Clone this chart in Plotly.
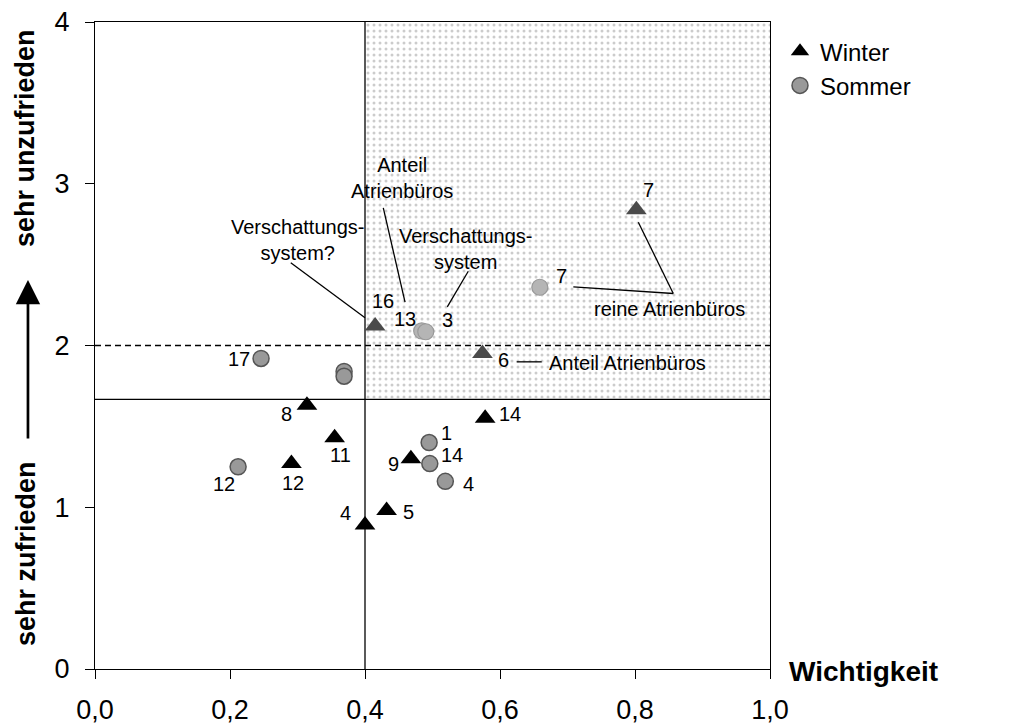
import plotly.graph_objects as go

# ---------------- data ----------------
winter_labels = ["8", "11", "12", "4", "5", "9", "14", "6", "16", "7"]
winter_importance = [0.314, 0.355, 0.291, 0.400, 0.432, 0.468, 0.578, 0.574, 0.415, 0.802]
winter_satisfaction = [1.63, 1.43, 1.27, 0.89, 0.98, 1.30, 1.55, 1.95, 2.12, 2.84]

summer_labels = ["17", "", "", "12", "1", "14", "4", "13", "3", "7"]
summer_importance = [0.246, 0.369, 0.369, 0.212, 0.495, 0.496, 0.519, 0.484, 0.490, 0.659]
summer_satisfaction = [1.92, 1.84, 1.81, 1.25, 1.40, 1.27, 1.16, 2.09, 2.085, 2.36]

IMPORTANCE_THRESHOLD = 0.4
MEAN_SATISFACTION = 1.667
SCALE_MIDPOINT = 2.0

x_ticks = [0.0, 0.2, 0.4, 0.6, 0.8, 1.0]
y_ticks = [0, 1, 2, 3, 4]

# ---------------- styling ----------------
FONT = "Liberation Sans, Arial, sans-serif"
LBL = 20

# label offsets in pixels (dx right, dy down) keyed by season/label
winter_offsets = {"8": (-20, 9), "11": (6, 17), "12": (2, 19), "4": (-20, -12), "5": (22, 2),
                  "9": (-17, 5), "14": (25, -4), "6": (21, 6), "16": (8, -25), "7": (12, -20)}
summer_offsets = {"17": (-22, 1), "12": (-14, 17), "1": (17, -10), "14": (22, -9), "4": (23, 3),
                  "13": (-17, -12), "3": (22, -12), "7": (22, -11)}


def in_zone(x, y):
    return x >= IMPORTANCE_THRESHOLD and y >= MEAN_SATISFACTION


fig = go.Figure()

# shaded quadrant (dotted pattern)
fig.add_trace(go.Scatter(
    x=[IMPORTANCE_THRESHOLD, 1, 1, IMPORTANCE_THRESHOLD, IMPORTANCE_THRESHOLD],
    y=[MEAN_SATISFACTION, MEAN_SATISFACTION, 4, 4, MEAN_SATISFACTION],
    mode="lines", fill="toself", fillcolor="rgba(0,0,0,0)",
    fillpattern=dict(shape=".", size=6, solidity=0.2, fgcolor="#999999"),
    line=dict(width=0), hoverinfo="skip", showlegend=False))


def split(xs, ys, zone):
    xi = [x for x, y in zip(xs, ys) if in_zone(x, y) == zone]
    yi = [y for x, y in zip(xs, ys) if in_zone(x, y) == zone]
    return xi, yi


# Winter
wx, wy = split(winter_importance, winter_satisfaction, False)
fig.add_trace(go.Scatter(x=wx, y=wy, mode="markers", name="Winter",
                         marker=dict(symbol="triangle-up", size=18, color="black",
                                     line=dict(width=0))))
wxs, wys = split(winter_importance, winter_satisfaction, True)
fig.add_trace(go.Scatter(x=wxs, y=wys, mode="markers", showlegend=False,
                         marker=dict(symbol="triangle-up", size=18, color="#4a4a4a",
                                     line=dict(width=0))))
# Sommer
sx, sy = split(summer_importance, summer_satisfaction, False)
fig.add_trace(go.Scatter(x=sx, y=sy, mode="markers", name="Sommer",
                         marker=dict(symbol="circle", size=16, color="#999999",
                                     line=dict(width=1.5, color="#555555"))))
sxs, sys_ = split(summer_importance, summer_satisfaction, True)
fig.add_trace(go.Scatter(x=sxs, y=sys_, mode="markers", showlegend=False,
                         marker=dict(symbol="circle", size=16, color="#b5b5b5",
                                     line=dict(width=1.2, color="#999999"))))

annotations = []
for labels, xs, ys, offs in [(winter_labels, winter_importance, winter_satisfaction, winter_offsets),
                             (summer_labels, summer_importance, summer_satisfaction, summer_offsets)]:
    for lab, x, y in zip(labels, xs, ys):
        if not lab:
            continue
        dx, dy = offs[lab]
        annotations.append(dict(x=x, y=y, xref="x", yref="y", text=lab, showarrow=False,
                                xshift=dx, yshift=-dy, font=dict(size=LBL, color="black")))

# callout texts
callouts = [
    ("Verschattungs-<br>system?", 0.300, 2.650),
    ("Anteil<br>Atrienbüros", 0.4548, 3.037),
    ("Verschattungs-<br>system", 0.5493, 2.599),
    ("reine Atrienbüros", 0.8508, 2.2226),
    ("Anteil Atrienbüros", 0.7889, 1.893),
]
for t, x, y in callouts:
    annotations.append(dict(x=x, y=y, xref="x", yref="y", text=t, showarrow=False,
                            font=dict(size=LBL, color="black"), align="center"))

# right-side explanations
right_texts = [
    ("Skalenmittelwert", 1.996),
    ("Mittelwert der Zufriedenheit", 1.666),
    ("mit dem Tageslicht", 1.522),
    ("für Sommer und Winter", 1.377),
]
for t, y in right_texts:
    annotations.append(dict(x=1.0173, y=y, xref="x", yref="y", text=t, showarrow=False,
                            xanchor="left", font=dict(size=LBL, color="black")))

# axis titles
annotations.append(dict(x=1.0252, y=-0.004, xref="paper", yref="paper", text="<b>Wichtigkeit</b>",
                        showarrow=False, xanchor="left", yanchor="middle",
                        font=dict(size=28, color="black")))
annotations.append(dict(x=-0.1030, y=0.8215, xref="paper", yref="paper", text="<b>sehr unzufrieden</b>",
                        showarrow=False, textangle=-90, xanchor="center", yanchor="middle",
                        font=dict(size=27, color="black")))
annotations.append(dict(x=-0.1030, y=0.1785, xref="paper", yref="paper", text="<b>sehr zufrieden</b>",
                        showarrow=False, textangle=-90, xanchor="center", yanchor="middle",
                        font=dict(size=27, color="black")))
annotations.append(dict(x=-0.0993, y=0.6012, xref="paper", yref="paper", text="",
                        xanchor="center", yanchor="middle",
                        showarrow=True, ax=0, ay=160, arrowhead=2, arrowsize=1.8, arrowwidth=2.7,
                        arrowcolor="black"))

# lines
shapes = [
    dict(type="line", x0=IMPORTANCE_THRESHOLD, x1=IMPORTANCE_THRESHOLD, y0=0, y1=4,
         line=dict(color="black", width=1.3), layer="below"),
    dict(type="line", x0=0, x1=1, y0=MEAN_SATISFACTION, y1=MEAN_SATISFACTION,
         line=dict(color="black", width=1.3), layer="below"),
    dict(type="line", x0=0, x1=1, y0=SCALE_MIDPOINT, y1=SCALE_MIDPOINT,
         line=dict(color="black", width=1.6, dash="6px,4px"), layer="below"),
]
leaders = [
    (0.290, 2.511, 0.400, 2.171),
    (0.4271, 2.851, 0.4593, 2.268),
    (0.5530, 2.459, 0.5219, 2.239),
    (0.7086, 2.363, 0.8567, 2.3215),
    (0.8049, 2.762, 0.8567, 2.3215),
    (0.6247, 1.899, 0.6618, 1.899),
]
for x0, y0, x1, y1 in leaders:
    shapes.append(dict(type="line", x0=x0, y0=y0, x1=x1, y1=y1, xref="x", yref="y",
                       line=dict(color="black", width=1.3)))

fig.update_layout(
    width=1026, height=719,
    margin=dict(l=87, r=264, t=14, b=58),
    paper_bgcolor="white", plot_bgcolor="white",
    font=dict(family=FONT, color="black"),
    separators=",.",
    showlegend=True,
    legend=dict(x=1.0148, y=0.989, xanchor="left", yanchor="top", font=dict(size=24),
                bgcolor="rgba(0,0,0,0)", tracegroupgap=0, itemsizing="trace"),
    annotations=annotations,
    shapes=shapes,
)
fig.update_xaxes(range=[0, 1], tickvals=x_ticks, tickformat=".1f", ticks="outside", ticklen=9,
                 tickcolor="black", showline=True, linecolor="black", linewidth=1.2, mirror=True,
                 showgrid=False, zeroline=False, tickfont=dict(size=27), ticklabelstandoff=7,
                 automargin=False, ticklabeloverflow="allow")
fig.update_yaxes(range=[0, 4], tickvals=y_ticks, ticks="outside", ticklen=9,
                 tickcolor="black", showline=True, linecolor="black", linewidth=1.2, mirror=True,
                 showgrid=False, zeroline=False, tickfont=dict(size=27), ticklabelstandoff=10,
                 automargin=False, ticklabeloverflow="allow")

fig.write_html("out.html")
